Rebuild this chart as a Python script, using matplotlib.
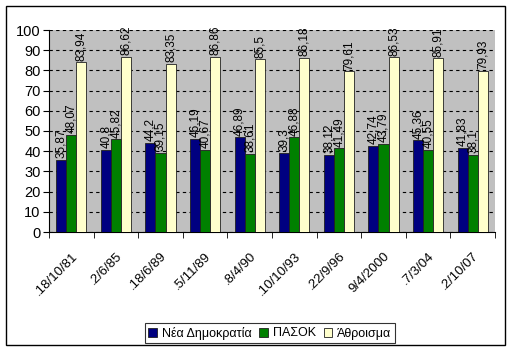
import matplotlib
matplotlib.use("Agg")
import matplotlib.pyplot as plt
import numpy as np
from matplotlib.patches import Rectangle

dates = [".18/10/81", ".2/6/85", ".18/6/89", ".5/11/89", ".8/4/90",
         ".10/10/93", ".22/9/96", "9/4/2000", ".7/3/04", ".2/10/07"]
nd = [35.87, 40.8, 44.2, 46.19, 46.89, 39.3, 38.12, 42.74, 45.36, 41.83]
pasok = [48.07, 45.82, 39.15, 40.67, 38.61, 46.88, 41.49, 43.79, 40.55, 38.1]
total = [83.94, 86.62, 83.35, 86.86, 85.5, 86.18, 79.61, 86.53, 85.91, 79.93]
series_names = ["Νέα Δημοκρατία", "ΠΑΣΟΚ", "Άθροισμα"]
colors = ["#000080", "#008000", "#FFFFCC"]

plt.rcParams['font.family'] = ['Liberation Sans', 'DejaVu Sans']

W, H = 510, 354
fig = plt.figure(figsize=(W/100, H/100), dpi=100)
ax = fig.add_axes([49/W, 1-232/H, (495-49)/W, (232-30)/H])
ax.set_facecolor("#C0C0C0")

x = np.arange(len(dates))
bw = 0.225
offs = [-bw, 0, bw]
for vals, off, c, name in zip([nd, pasok, total], offs, colors, series_names):
    ax.bar(x + off, vals, bw, color=c, edgecolor="#202020", linewidth=0.6, label=name, zorder=3)
    for xi, v in zip(x + off, vals):
        ax.text(xi, v + 0.8, f"{v:g}".replace(".", ","), rotation=90, ha="center", va="bottom",
                fontsize=8.5, zorder=4)

ax.set_xlim(-0.5, len(dates) - 0.5)
ax.set_ylim(0, 100)
ax.set_yticks(range(0, 101, 10))
ax.tick_params(axis='y', labelsize=10.5, length=4, direction='out', pad=2)
ax.grid(axis='y', color='black', linestyle=(0, (3, 3)), linewidth=0.8, zorder=1)
ax.set_xticks(x)
ax.set_xticklabels(dates, rotation=45, ha='right', rotation_mode='anchor', fontsize=9.5)
ax.tick_params(axis='x', length=0, pad=13)
ax.set_xticks(np.arange(-0.5, len(dates)), minor=True)
ax.tick_params(axis='x', which='minor', length=4, direction='out')
for s in ['top', 'right']:
    ax.spines[s].set_visible(False)
ax.spines['left'].set_color('black')
ax.spines['bottom'].set_color('black')

leg = fig.legend(loc='center', bbox_to_anchor=(270/W, 1-333/H), ncol=3, fontsize=9,
                 frameon=True, fancybox=False, edgecolor='black', handlelength=0.7,
                 handleheight=0.7, handletextpad=0.4, columnspacing=0.6, borderpad=0.3)
leg.get_frame().set_linewidth(0.8)

fig.patches.append(Rectangle((6/W, 1-345/H), (505-6)/W, (345-6)/H, transform=fig.transFigure,
                             fill=False, edgecolor='black', linewidth=1.0))

fig.savefig("out.png", dpi=100)
